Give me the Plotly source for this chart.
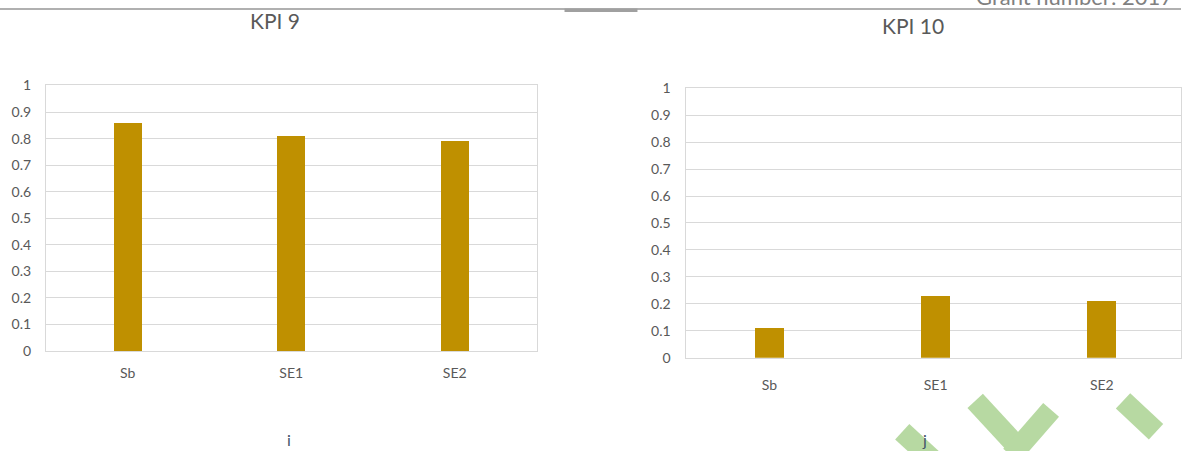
import plotly.graph_objects as go

# ---- data ----
categories = ["Sb", "SE1", "SE2"]
kpi9_values = [0.86, 0.81, 0.79]
kpi10_values = [0.11, 0.23, 0.21]
y_ticks = [0, 0.1, 0.2, 0.3, 0.4, 0.5, 0.6, 0.7, 0.8, 0.9, 1]
y_tick_labels = ["0", "0.1", "0.2", "0.3", "0.4", "0.5", "0.6", "0.7", "0.8", "0.9", "1"]
titles = ["KPI 9", "KPI 10"]
captions = ["i", "j"]

W, H = 1182, 460
FONT = "Lato"
GRAY = "#595959"
GRID = "#d9d9d9"
BAR = "#bf9000"

# empirical vertical calibration of the photographed page
Y_OFF, Y_SCALE = 7.5, 0.967


def px(x):
    return x / W


def py(y_ref):
    y = (y_ref - Y_OFF) / Y_SCALE
    return (H - y) / H


fig = go.Figure()
fig.add_trace(go.Bar(x=categories, y=kpi9_values, xaxis="x", yaxis="y",
                     marker=dict(color=BAR, line=dict(width=0)), width=0.174,
                     showlegend=False))
fig.add_trace(go.Bar(x=categories, y=kpi10_values, xaxis="x2", yaxis="y2",
                     marker=dict(color=BAR, line=dict(width=0)), width=0.173,
                     showlegend=False))

xcommon = dict(type="category", showgrid=False, showline=True, linecolor=GRID,
               linewidth=1, mirror=True, ticks="", fixedrange=True,
               tickfont=dict(family=FONT, size=14, color=GRAY))
ycommon = dict(range=[0, 1], tickvals=y_ticks, ticktext=y_tick_labels,
               showgrid=True, gridcolor=GRID, gridwidth=1, zeroline=False,
               showline=True, linecolor=GRID, linewidth=1, mirror=True,
               ticks="", fixedrange=True,
               tickfont=dict(family=FONT, size=14, color=GRAY))

fig.update_layout(
    width=W, height=H,
    margin=dict(l=0, r=0, t=0, b=0),
    paper_bgcolor="white", plot_bgcolor="white",
    bargap=0, hovermode=False,
    xaxis=dict(domain=[px(46), px(537)], range=[-0.5, 2.5], anchor="y",
               ticklabelstandoff=9, **xcommon),
    yaxis=dict(domain=[py(351), py(84.3)], anchor="x", ticklabelstandoff=11,
               **ycommon),
    xaxis2=dict(domain=[px(687), 1.0], range=[-0.5, -0.5 + (W - 687) / 166.3],
                anchor="y2", ticklabelstandoff=14, **xcommon),
    yaxis2=dict(domain=[py(357.7), py(87)], anchor="x2", ticklabelstandoff=12,
                **ycommon),
)

annotations = [
    dict(text=titles[0], x=px(275.5), y=py(19), xref="paper", yref="paper",
         xanchor="center", yanchor="middle", showarrow=False,
         font=dict(family=FONT, size=21, color=GRAY)),
    dict(text=titles[1], x=px(914), y=py(24), xref="paper", yref="paper",
         xanchor="center", yanchor="middle", showarrow=False,
         font=dict(family=FONT, size=21, color=GRAY)),
    dict(text=captions[0], x=px(289), y=py(440), xref="paper", yref="paper",
         xanchor="center", yanchor="middle", showarrow=False,
         font=dict(family=FONT, size=16, color="#44546a")),
    dict(text=captions[1], x=px(925), y=py(440), xref="paper", yref="paper",
         xanchor="center", yanchor="middle", showarrow=False,
         font=dict(family=FONT, size=16, color="#44546a")),
    dict(text="Grant number: 2017-1", x=px(975), y=py(10.5), xref="paper", yref="paper",
         xanchor="left", yanchor="bottom", showarrow=False,
         font=dict(family=FONT, size=22, color="#808080")),
]
fig.update_layout(annotations=annotations)

# decorative page elements (header rule and watermark strokes)
green = "#b7d9a2"
shapes = [
    dict(type="line", xref="paper", yref="paper", x0=0, x1=1, y0=py(7.5), y1=py(7.5),
         line=dict(color="#b0b0b0", width=2), layer="below"),
    dict(type="rect", xref="paper", yref="paper", x0=px(565), x1=px(638),
         y0=py(10.5), y1=py(7), fillcolor="#a0a0a0", line=dict(width=0), layer="below"),
]
strokes = [((903, 432), (940, 466)), ((976, 401), (1022, 451)),
           ((1052, 410), (1012, 456)), ((1124, 401), (1157, 432))]
for (x0, y0), (x1, y1) in strokes:
    shapes.append(dict(type="line", xref="paper", yref="paper",
                       x0=px(x0), y0=py(y0), x1=px(x1), y1=py(y1),
                       line=dict(color=green, width=21), layer="below"))
fig.update_layout(shapes=shapes)

post = ("document.documentElement.style.margin='0';"
        "document.documentElement.style.overflow='hidden';"
        "document.body.style.margin='0';document.body.style.padding='0';"
        "document.body.style.overflow='hidden';")
fig.write_html("out.html", post_script=post,
               config={"displayModeBar": False, "staticPlot": True})
